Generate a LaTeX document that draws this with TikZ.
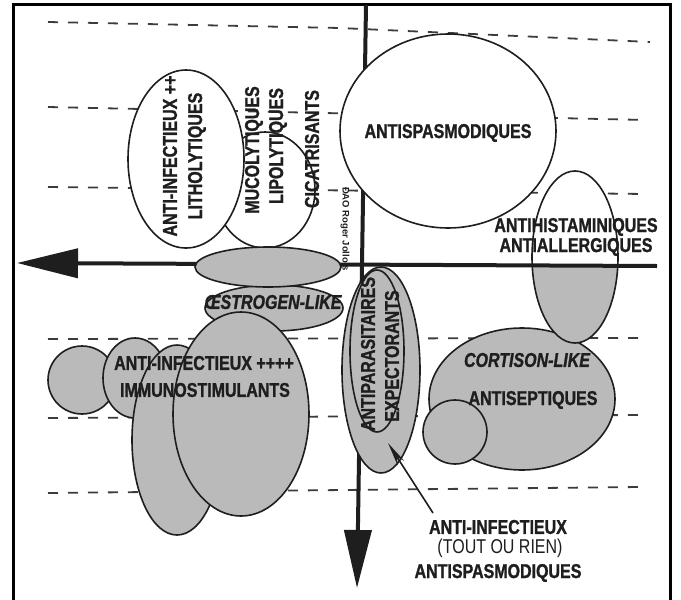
\documentclass[tikz,border=0pt]{standalone}
\usepackage{fontspec}
\setmainfont{Liberation Sans}
\newfontfamily\cf{Liberation Sans}[FakeStretch=0.8,BoldFeatures={FakeBold=1.2},BoldItalicFeatures={FakeBold=1.2}]
\usetikzlibrary{shapes.geometric,arrows.meta}
\definecolor{gfill}{RGB}{186,186,186}
\definecolor{ink}{RGB}{30,30,30}
\definecolor{dashc}{RGB}{60,60,60}
\tikzset{
  blob/.style={ellipse,draw=ink,line width=1.6pt,inner sep=0pt,fill=#1},
  blob/.default=gfill,
  lbl/.style={inner sep=0pt,text=ink,font=\cf\bfseries\fontsize{20}{20}\selectfont},
  lbli/.style={inner sep=0pt,text=ink,font=\cf\bfseries\itshape\fontsize{20}{20}\selectfont},
  lblr/.style={inner sep=0pt,text=ink,font=\cf\fontsize{20}{20}\selectfont},
  guide/.style={draw=dashc,line width=1.8pt,dash pattern=on 10pt off 10pt},
  axis/.style={draw=ink,line width=4pt},
}
\begin{document}
\begin{tikzpicture}[x=1pt,y=-1pt]
\useasboundingbox (0,0) rectangle (681,600);
\fill[white] (0,0) rectangle (681,600);
% frame
\draw[black,line width=3pt] (13.5,600) -- (13.5,4.5) -- (670.5,4.5) -- (670.5,600);
% dashed guides
\draw[guide] (48,22) -- (340,28) -- (650,42);
\draw[guide] (48,107) -- (647,120);
\draw[guide] (48,187) -- (645,194);
\draw[guide] (48,339) -- (640,338);
\draw[guide] (48,418) -- (640,415);
\draw[guide] (48,493) -- (640,487);
% vertical axis
\coordinate (vT) at (366,5);
\coordinate (vB) at (357,588);
\draw[axis,-{Triangle[length=58pt,width=27pt]}] (vT) -- (vB);
% upper white shapes
\node[blob=white,minimum width=216pt,minimum height=194pt] (spas) at (448,131) {};
\node[blob=white,minimum width=100pt,minimum height=116pt] (muco) at (265,190) {};
\node[blob=white,minimum width=116pt,minimum height=178pt] (lith) at (186,159) {};
% right cluster
\node[blob,minimum width=186pt,minimum height=142pt] (cort) at (522,399) {};
\node[blob,minimum width=64pt,minimum height=64pt] (cercR) at (455,432) {};
\node[ellipse,inner sep=0pt,fill=white,minimum width=86pt,minimum height=172pt,
  path picture={\fill[gfill] ([yshift=-9pt]path picture bounding box.west) rectangle (path picture bounding box.south east);}] (hist) at (575,257) {};
\node[ellipse,draw=ink,line width=1.6pt,inner sep=0pt,minimum width=86pt,minimum height=172pt] (histo) at (575,257) {};
% horizontal axis
\coordinate (hR) at (657,266);
\coordinate (hL) at (17,263);
\draw[axis,-{Triangle[length=61pt,width=29pt]}] (hR) -- (hL);
% middle-left gray shapes
\node[blob,minimum width=138pt,minimum height=46pt] (oest) at (274,308) {};
\node[blob,minimum width=146pt,minimum height=40pt] (bar) at (268,267) {};
\node[blob,minimum width=68pt,minimum height=68pt] (c1) at (82,380) {};
\node[blob,minimum width=64pt,minimum height=80pt] (c2) at (135,378) {};
\node[blob,minimum width=90pt,minimum height=190pt] (c3) at (177,440) {};
\node[blob,minimum width=136pt,minimum height=204pt] (c4) at (241,414) {};
% central vertical ellipses
\node[blob,minimum width=78pt,minimum height=206pt] (gout) at (381,370) {};
\node[blob,minimum width=54pt,minimum height=162pt] (gin) at (377,351) {};
% texts upper
\node[lbl,rotate=90] (t1) at (170,156) {ANTI-INFECTIEUX ++};
\node[lbl,rotate=90] (t2) at (197,156) {LITHOLYTIQUES};
\node[lbl,rotate=90] (t3) at (254,150) {MUCOLYTIQUES};
\node[lbl,rotate=90] (t4) at (278,146) {LIPOLYTIQUES};
\node[lbl,rotate=90] (t5) at (312,149) {CICATRISANTS};
\node[lbl] (t6) at (448,133) {ANTISPASMODIQUES};
\node[lbl] (t7) at (576,227) {ANTIHISTAMINIQUES};
\node[lbl] (t8) at (576,247) {ANTIALLERGIQUES};
\node[inner sep=0pt,text=ink,rotate=-90,font=\bfseries\fontsize{9.5}{10}\selectfont] (credit) at (345,229) {ÐAO Roger Jollois};
% texts lower
\node[lbli] (t9) at (273,302) {ŒSTROGEN-LIKE};
\node[lbl] (t10) at (204,363) {ANTI-INFECTIEUX ++++};
\node[lbl] (t11) at (205,390) {IMMUNOSTIMULANTS};
\node[lbl,rotate=90] (t12) at (368,354) {ANTIPARASITAIRES};
\node[lbl,rotate=90] (t13) at (392,356) {EXPECTORANTS};
\node[lbli] (t14) at (527,360) {CORTISON-LIKE};
\node[lbl] (t15) at (533,400) {ANTISEPTIQUES};
\node[lbl] (t16) at (498,527) {ANTI-INFECTIEUX};
\node[lblr] (t17) at (500,548) {(TOUT OU RIEN)};
\node[lbl] (t18) at (498,573) {ANTISPASMODIQUES};
% annotation arrow
\coordinate (annS) at (433,513);
\coordinate (annT) at (388,443);
\draw[ink,line width=1.6pt,-{Stealth[length=24pt,width=8pt]}] (annS) -- (annT);
\end{tikzpicture}
\end{document}
